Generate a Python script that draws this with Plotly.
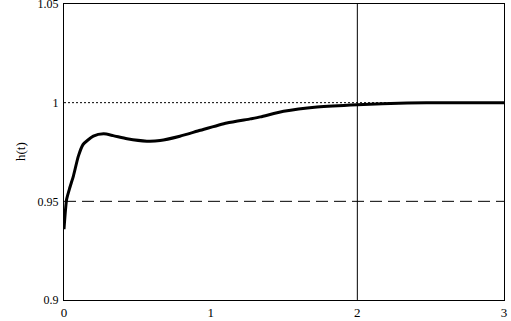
import plotly.graph_objects as go

t_vals = [0.0, 0.018, 0.04, 0.064, 0.098, 0.13, 0.2, 0.27, 0.335, 0.43, 0.565, 0.655, 0.79, 0.93,
          1.11, 1.27, 1.34, 1.497, 1.725, 2.0, 2.34, 2.6, 3.0]
h_vals = [0.9359, 0.951, 0.957, 0.9628, 0.9729, 0.9788, 0.983, 0.9842, 0.9833, 0.9817, 0.9805, 0.9808,
          0.983, 0.986, 0.9897, 0.9918, 0.9928, 0.9956, 0.9978, 0.999, 0.9998, 1.0, 1.0]
ref_upper = 1.0
ref_lower = 0.95
marker_t = 2.0
x_ticks = [0, 1, 2, 3]
y_ticks = [0.9, 0.95, 1.0, 1.05]
y_tick_text = ["0.9", "0.95", "1", "1.05"]

fig = go.Figure()
fig.add_trace(go.Scatter(x=t_vals, y=h_vals, mode="lines",
                         line=dict(color="black", width=3, shape="spline", smoothing=0.6),
                         showlegend=False, hoverinfo="skip"))
fig.add_trace(go.Scatter(x=[0, 3], y=[ref_upper, ref_upper], mode="lines",
                         line=dict(color="black", width=1, dash="2px,2px"), showlegend=False,
                         hoverinfo="skip"))
fig.add_trace(go.Scatter(x=[0, 3], y=[ref_lower, ref_lower], mode="lines",
                         line=dict(color="black", width=1, dash="12px,6px"), showlegend=False,
                         hoverinfo="skip"))
fig.add_trace(go.Scatter(x=[marker_t, marker_t], y=[0.9, 1.05], mode="lines",
                         line=dict(color="black", width=1), showlegend=False, hoverinfo="skip"))

fig.add_annotation(text="h(t)", xref="paper", yref="paper", x=-0.1, y=0.5,
                   textangle=-90, showarrow=False, xanchor="center", yanchor="middle",
                   font=dict(size=13))

fig.update_layout(
    width=511, height=321,
    margin=dict(l=64, r=7, t=3.5, b=20.5),
    paper_bgcolor="white", plot_bgcolor="white",
    font=dict(family="Liberation Serif", size=12, color="black"),
    xaxis=dict(range=[0, 3], tickvals=x_ticks, ticks="", showgrid=False, zeroline=False,
               showline=True, linecolor="black", linewidth=1, mirror=True,
               tickfont=dict(size=13, color="black"), automargin=False, ticklabelstandoff=0,
               ticklabeloverflow="allow"),
    yaxis=dict(range=[0.89999, 1.05001], tickvals=y_ticks, ticktext=y_tick_text, ticks="",
               showgrid=False, zeroline=False, showline=True, linecolor="black",
               linewidth=1, mirror=True, automargin=False, ticklabelstandoff=2,
               ticklabeloverflow="allow", tickfont=dict(color="black")),
)
fig.write_html("out.html", config={"displayModeBar": False},
               post_script="document.body.style.margin='0';")
